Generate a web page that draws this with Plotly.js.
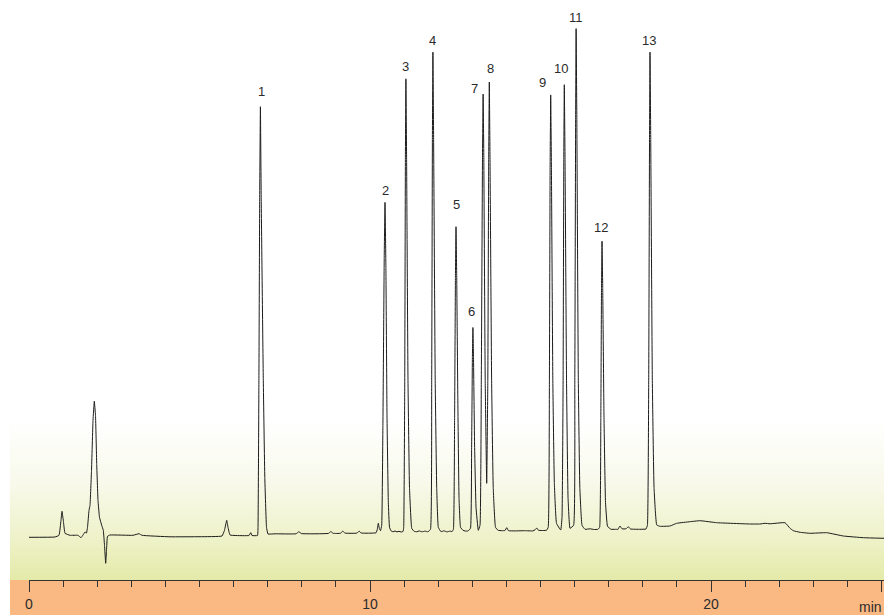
<!DOCTYPE html>
<html>
<head>
<meta charset="utf-8">
<script src="https://cdn.plot.ly/plotly-3.0.1.min.js"></script>
<style>html,body{margin:0;padding:0;background:#fff;}#chart{width:884px;height:615px;}</style>
</head>
<body>
<div id="chart"></div>
<script>
// Retention time (min) and detector signal (arbitrary units)
const timeMin = [0,0.762,0.880,0.938,0.968,1.012,1.056,1.202,1.437,1.525,1.584,1.642,1.686,1.716,1.760,1.789,1.833,1.877,1.915,1.950,1.985,2.023,2.067,2.132,2.179,2.214,2.249,2.273,2.302,2.375,3.050,3.226,3.314,4.135,5.015,5.660,5.733,5.798,5.836,5.894,6.041,6.452,6.502,6.540,6.701,6.716,6.742,6.765,6.786,6.809,6.871,6.915,6.965,7.009,7.214,7.830,7.912,7.991,8.783,8.853,8.915,9.135,9.199,9.267,9.619,9.681,9.736,10.176,10.214,10.244,10.273,10.308,10.343,10.378,10.417,10.440,10.466,10.499,10.537,10.572,10.616,10.675,10.733,10.792,10.851,10.909,10.968,10.988,11.018,11.038,11.053,11.073,11.114,11.158,11.223,11.291,11.378,11.437,11.525,11.613,11.701,11.774,11.809,11.830,11.845,11.865,11.912,11.956,12.003,12.082,12.170,12.258,12.346,12.405,12.446,12.481,12.505,12.522,12.543,12.575,12.610,12.654,12.727,12.786,12.874,12.947,12.980,13.003,13.018,13.035,13.068,13.109,13.176,13.226,13.264,13.299,13.317,13.337,13.378,13.422,13.455,13.481,13.499,13.519,13.566,13.613,13.680,13.754,13.871,13.959,14.009,14.062,14.252,14.545,14.780,14.839,14.889,14.941,15.176,15.226,15.261,15.282,15.299,15.320,15.361,15.405,15.469,15.593,15.631,15.663,15.683,15.698,15.719,15.763,15.807,15.865,15.971,16.006,16.030,16.044,16.065,16.109,16.153,16.217,16.305,16.452,16.569,16.687,16.734,16.769,16.789,16.804,16.824,16.862,16.906,16.965,17.068,17.185,17.273,17.331,17.390,17.508,17.575,17.639,17.918,18.094,18.135,18.173,18.197,18.211,18.232,18.279,18.329,18.408,18.505,18.798,18.994,19.384,19.678,20.167,21.144,21.437,21.584,21.730,22.170,22.317,22.414,22.610,22.903,23.393,23.880,24.467,25.073];
const signal = [0,0.3,2,17,26,15,4,2,2,-0.4,2.3,5.3,4.3,10,27,32,67,117,136,122,74,37,20,12,7,-8,-26,-13,1,2.3,2,3.6,2,0.5,0.6,1.3,7,17,10,2.3,1.8,1.8,4.6,1.8,1.8,10,157,340,430.6,340,157,60,10,3.3,3.5,3.5,5.5,3.7,3.9,5.8,4,4,6.2,4.2,4.2,6.2,4.3,4.5,8,14,9,6.6,12,110,280,334.9,270,120,35,10,6.5,5.5,6.3,5.4,6,5.3,5.8,10,150,380,458.5,380,157,50,9,6,5.5,6.4,5.5,6.2,5.5,8,157,400,485.1,400,157,50,10,5.6,6.5,5.4,6.2,5.6,8,120,260,310.6,260,140,40,10,7,6.3,6.3,9,90,180,209.8,180,90,30,7,12,157,380,443.2,380,157,54,157,380,455.3,380,157,50,10,7,6.6,6.8,9.6,6.6,6.4,6.6,6.4,7.5,9.3,7,7,10,157,370,442.4,370,157,55,14,7.3,20,157,380,452.6,380,157,40,9,12,157,420,508.7,420,157,50,12,8,8.5,7.8,8,10,120,250,296.1,250,120,35,11,8,8,8,11.3,8.5,8.5,10.6,8.3,8,8.3,12,157,400,485.1,400,157,50,12.3,11,11.3,14,15.6,16.6,14.6,13.3,13.3,14,13.5,14.6,9,6.6,5,4,4.6,1.3,-0.4,-1];

// Numbered peaks
const peakLabels = ['1','2','3','4','5','6','7','8','9','10','11','12','13'];
const peakTimes = [6.786,10.440,11.053,11.845,12.522,13.018,13.317,13.499,15.299,15.698,16.044,16.804,18.211];
const peakHeights = [430.6,334.9,458.5,485.1,310.6,209.8,443.2,455.3,442.4,452.6,508.7,296.1,485.1];

// Axis tick labels
const majorTicks = [0,10,20,25];
const majorTickText = ['0','10','20',''];
const axisUnit = 'min';

// label placement offsets (px)
const labelDx = [0.6,0,0,0,0.6,-1.6,-8.5,1,-8,-3,0,-1,-0.6];
const labelDy = [15.7,12,12,12,22,16.5,5.5,14,12,16.5,11.3,14,12];

const W = 884, H = 615, mL = 29, mR = 0, mT = 0, mB = 35;
const plotW = W - mL - mR, plotH = H - mT - mB;
const xMax = 25.073;
const yMin = -42.7, yMax = 537.3;

const grad = "<svg xmlns='http://www.w3.org/2000/svg' width='100' height='100' preserveAspectRatio='none' viewBox='0 0 100 100'><defs><linearGradient id='g' x1='0' y1='0' x2='0' y2='1'><stop offset='0' stop-color='#ffffff'/><stop offset='0.4' stop-color='#f8f9ea'/><stop offset='0.75' stop-color='#eef2c8'/><stop offset='1' stop-color='#e4eaa8'/></linearGradient></defs><rect width='100' height='100' fill='url(#g)'/></svg>";
const gradSrc = 'data:image/svg+xml;charset=utf-8,' + encodeURIComponent(grad);

const leftEdge = (10 - mL) / plotW;
const gradTop = (580 - 420) / plotH;

const annotations = peakLabels.map((lab, i) => ({
  x: peakTimes[i], y: peakHeights[i], xref: 'x', yref: 'y',
  text: lab, showarrow: false, xanchor: 'center', yanchor: 'middle',
  xshift: labelDx[i], yshift: labelDy[i],
  font: {family: 'Liberation Sans, Arial, sans-serif', size: 13, color: '#2b2b2b'}
}));
annotations.push({
  x: 1, y: -(606.5 - 580) / plotH, xref: 'paper', yref: 'paper',
  text: axisUnit, showarrow: false, xanchor: 'right', yanchor: 'middle',
  font: {family: 'Liberation Sans, Arial, sans-serif', size: 14, color: '#2b2b2b'}
});

const trace = {
  x: timeMin, y: signal, type: 'scatter', mode: 'lines',
  line: {color: '#1c1c1c', width: 1, shape: 'spline', smoothing: 0.3},
  hoverinfo: 'skip', showlegend: false
};

const layout = {
  width: W, height: H,
  margin: {l: mL, r: mR, t: mT, b: mB, pad: 0},
  paper_bgcolor: '#ffffff', plot_bgcolor: 'rgba(0,0,0,0)',
  showlegend: false,
  xaxis: {
    range: [0, xMax], showgrid: false, zeroline: false,
    showline: true, linecolor: '#333', linewidth: 1,
    tickmode: 'array', tickvals: majorTicks, ticktext: majorTickText,
    ticks: 'outside', ticklen: 11, tickwidth: 1, tickcolor: '#333',
    tickfont: {family: 'Liberation Sans, Arial, sans-serif', size: 14, color: '#2b2b2b'},
    minor: {dtick: 1, tick0: 0, ticks: 'outside', ticklen: 6, tickwidth: 1, tickcolor: '#333', showgrid: false},
    fixedrange: true
  },
  yaxis: {range: [yMin, yMax], visible: false, fixedrange: true},
  images: [{
    source: gradSrc, xref: 'paper', yref: 'paper',
    x: leftEdge, y: gradTop, sizex: 1 - leftEdge, sizey: gradTop,
    xanchor: 'left', yanchor: 'top', sizing: 'stretch', layer: 'below'
  }],
  shapes: [{
    type: 'rect', xref: 'paper', yref: 'paper',
    x0: leftEdge, x1: 1, y0: -mB / plotH, y1: 0,
    fillcolor: '#fab982', line: {width: 0}, layer: 'below'
  }],
  annotations: annotations
};

Plotly.newPlot('chart', [trace], layout, {displayModeBar: false, staticPlot: true});
</script>
</body>
</html>
